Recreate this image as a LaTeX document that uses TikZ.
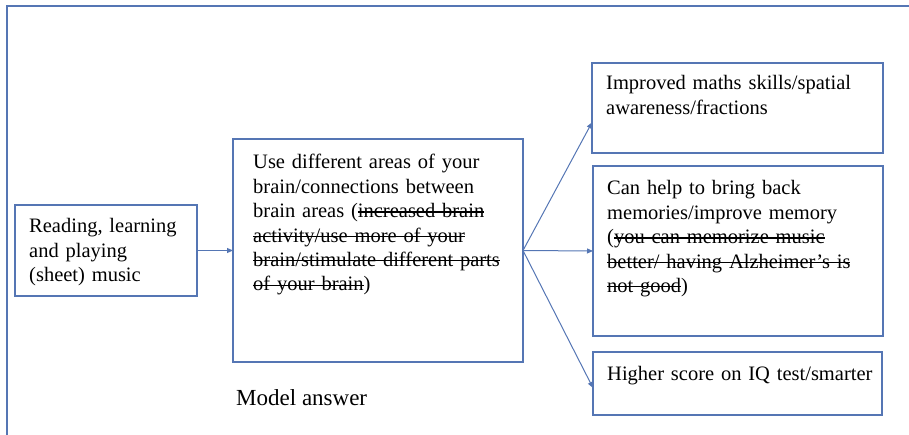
\documentclass[tikz,border=0pt]{standalone}
\usepackage{fontspec}
\setmainfont{Liberation Serif}
\newsavebox{\strkbox}
\newcommand{\strk}[1]{\leavevmode\sbox{\strkbox}{#1}\rlap{\raisebox{0.25em}{\rule{\wd\strkbox}{1.3pt}}}\usebox{\strkbox}}
\usetikzlibrary{arrows.meta,calc}
\definecolor{frameblue}{RGB}{85,118,180}
\begin{document}
\begin{tikzpicture}[x=1pt,y=-1pt,
  box/.style={draw=frameblue,line width=1.1pt,inner sep=0pt,outer sep=0pt,anchor=north west},
  txt/.style={anchor=base west,inner sep=0pt,align=left,text width=300pt,
    font=\fontsize{20.5}{24.4}\selectfont},
  conn/.style={draw=frameblue,line width=1pt,-{Triangle[length=6pt,width=5pt]}}]
\useasboundingbox (0,0) rectangle (909,435);
\draw[frameblue,line width=1.3pt] (7,435) -- (7,6) -- (909,6);
% boxes
\node[box,minimum width=182pt,minimum height=91pt] (A) at (15,205) {};
\node[box,minimum width=290pt,minimum height=223pt] (B) at (233,139) {};
\node[box,minimum width=291pt,minimum height=90pt] (C1) at (592,63) {};
\node[box,minimum width=290pt,minimum height=170pt] (C2) at (593,166) {};
\node[box,minimum width=289pt,minimum height=63pt] (C3) at (593,352) {};
% texts
\node[txt] (tA) at (29,233) {Reading, learning\\and playing\\(sheet) music};
\node[txt] (tB) at (253,169) {Use different areas of your\\brain/connections between\\brain areas (\strk{increased brain}\\\strk{activity/use more of your}\\\strk{brain/stimulate different parts}\\\strk{of your brain})};
\node[txt] (tC1) at (606,90) {Improved maths skills/spatial\\awareness/fractions};
\node[txt] (tC2) at (607,195) {Can help to bring back\\memories/improve memory\\(\strk{you can memorize music}\\\strk{better/ having Alzheimer’s is}\\\strk{not good})};
\node[txt] (tC3) at (607,380) {Higher score on IQ test/smarter};
\node[anchor=base west,inner sep=0pt,font=\fontsize{23}{27}\selectfont] (model) at (236,405) {Model answer};
% connectors
\draw[conn] (A.east) -- (B.west);
\draw[conn] (B.east) -- ($(C1.south west)!0.34!(C1.north west)$);
\draw[conn] (B.east) -- (C2.west);
\draw[conn] (B.east) -- ($(C3.north west)!0.57!(C3.south west)$);
\end{tikzpicture}
\end{document}
